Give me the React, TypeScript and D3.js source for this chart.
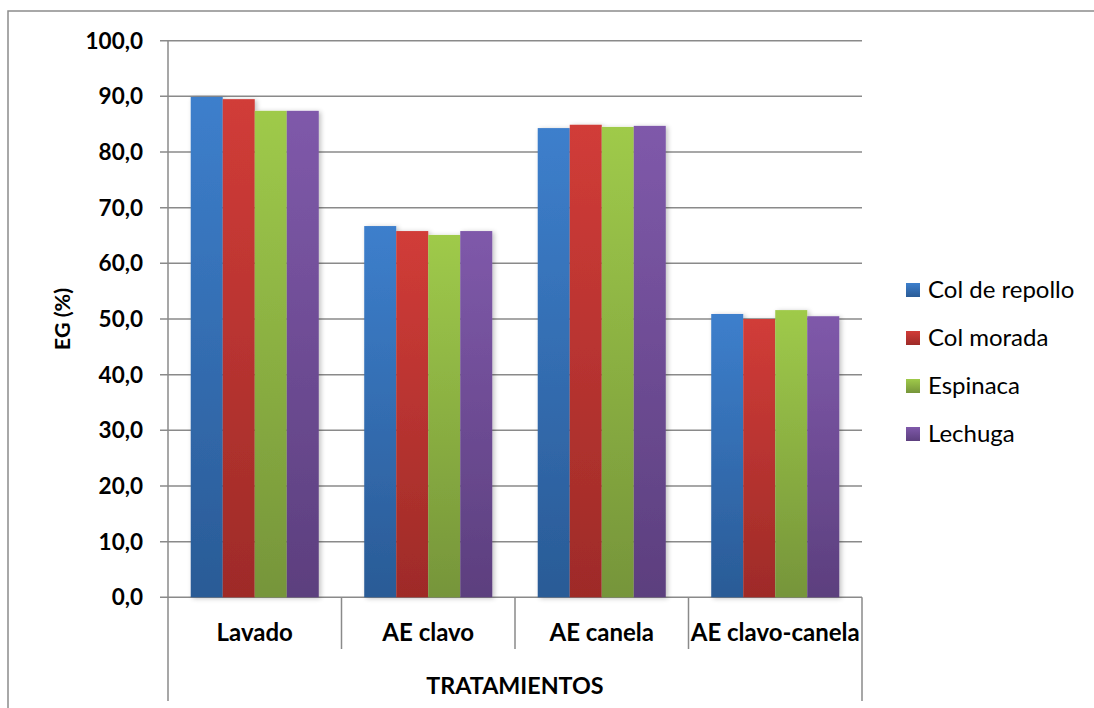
import React from "react";
import * as d3 from "d3";

// Treatments on the category axis
const categories = ["Lavado", "AE clavo", "AE canela", "AE clavo-canela"];
// Vegetables (series)
const seriesNames = ["Col de repollo", "Col morada", "Espinaca", "Lechuga"];
// EG (%) for each series, one value per treatment
const colRepollo = [89.9, 66.7, 84.3, 50.9];
const colMorada = [89.5, 65.8, 84.9, 50.0];
const espinaca = [87.4, 65.1, 84.5, 51.6];
const lechuga = [87.4, 65.8, 84.7, 50.5];
const seriesValues = [colRepollo, colMorada, espinaca, lechuga];
const yTicks = [0, 10, 20, 30, 40, 50, 60, 70, 80, 90, 100];

const palette = [
  { top: "#3d7fcc", bottom: "#2a5b96" },
  { top: "#d13c38", bottom: "#9e2b28" },
  { top: "#9fca4a", bottom: "#76953a" },
  { top: "#7f59aa", bottom: "#5c3f7e" },
];

const W = 1094;
const H = 708;
const plot = { left: 168, right: 862, top: 40.7, bottom: 597.3 };
const font = "Lato, 'Open Sans', sans-serif";

export default function App() {
  const y = d3.scaleLinear().domain([0, 100]).range([plot.bottom, plot.top]);
  const x0 = d3.scaleBand<string>().domain(categories).range([plot.left, plot.right]).paddingInner(0).paddingOuter(0);
  const groupW = x0.bandwidth() * 0.738;
  const x1 = d3
    .scaleBand<string>()
    .domain(seriesNames)
    .range([(x0.bandwidth() - groupW) / 2, (x0.bandwidth() + groupW) / 2]);
  const fmt = (v: number) => d3.format(".1f")(v).replace(".", ",");
  const grid = "#8a8a8a";

  return (
    <svg
      width={W}
      height={H}
      style={{ position: "absolute", left: 0, top: 0, background: "#fff" }}
    >
      <defs>
        {palette.map((p, i) => (
          <linearGradient key={i} id={`g${i}`} x1="0" y1="0" x2="0" y2="1">
            <stop offset="0%" stopColor={p.top} />
            <stop offset="100%" stopColor={p.bottom} />
          </linearGradient>
        ))}
        <filter id="shadow" x="-20%" y="-5%" width="150%" height="120%">
          <feGaussianBlur in="SourceAlpha" stdDeviation="2.5" />
          <feOffset dx="2" dy="1" result="b" />
          <feComponentTransfer>
            <feFuncA type="linear" slope="0.25" />
          </feComponentTransfer>
          <feMerge>
            <feMergeNode />
            <feMergeNode in="SourceGraphic" />
          </feMerge>
        </filter>
      </defs>

      {/* chart frame */}
      <rect x={8} y={11} width={1100} height={720} fill="none" stroke="#8c8c8c" strokeWidth={1.5} />

      {/* horizontal gridlines */}
      {yTicks.map((t) => (
        <line key={t} x1={plot.left - 8} x2={plot.right} y1={y(t)} y2={y(t)} stroke={grid} strokeWidth={1.5} />
      ))}

      {/* y axis line */}
      <line x1={plot.left} x2={plot.left} y1={plot.top} y2={plot.bottom} stroke={grid} strokeWidth={1.5} />

      {/* bars */}
      {categories.map((c, ci) => (
        <g key={c} transform={`translate(${x0(c)},0)`} filter="url(#shadow)">
          {seriesNames.map((s, si) => {
            const v = seriesValues[si][ci];
            return (
              <rect
                key={s}
                x={x1(s)}
                y={y(v)}
                width={x1.bandwidth()}
                height={y(0) - y(v)}
                fill={`url(#g${si})`}
              />
            );
          })}
        </g>
      ))}

      {/* category axis dividers */}
      {categories.map((c, i) => {
        const xx = x0(c) as number;
        const outer = i === 0;
        return (
          <line key={c} x1={xx} x2={xx} y1={plot.bottom} y2={outer ? 701 : 649} stroke={grid} strokeWidth={1.5} />
        );
      })}
      <line x1={plot.right} x2={plot.right} y1={plot.bottom} y2={701} stroke={grid} strokeWidth={1.5} />

      {/* y tick labels */}
      {yTicks.map((t) => (
        <text
          key={t}
          x={143}
          y={y(t)}
          dy="0.35em"
          textAnchor="end"
          fontFamily={font}
          fontWeight="bold"
          fontSize={22.5}
          fill="#000"
        >
          {fmt(t)}
        </text>
      ))}

      {/* category labels */}
      {categories.map((c) => (
        <text
          key={c}
          x={(x0(c) as number) + x0.bandwidth() / 2}
          y={633}
          dy="0.35em"
          textAnchor="middle"
          fontFamily={font}
          fontWeight="bold"
          fontSize={24}
          fill="#000"
        >
          {c}
        </text>
      ))}

      {/* axis titles */}
      <text
        x={(plot.left + plot.right) / 2}
        y={686}
        dy="0.35em"
        textAnchor="middle"
        fontFamily={font}
        fontWeight="bold"
        fontSize={23.3}
      >
        TRATAMIENTOS
      </text>
      <text
        transform={`translate(62,${(plot.top + plot.bottom) / 2}) rotate(-90)`}
        dy="0.35em"
        textAnchor="middle"
        fontFamily={font}
        fontWeight="bold"
        fontSize={21.5}
      >
        EG (%)
      </text>

      {/* legend */}
      {seriesNames.map((s, i) => {
        const cy = 290 + i * 48;
        return (
          <g key={s}>
            <rect x={906} y={cy - 7} width={14} height={14} fill={`url(#g${i})`} />
            <text x={928} y={cy} dy="0.35em" fontFamily={font} fontSize={24} fill="#000">
              {s}
            </text>
          </g>
        );
      })}
    </svg>
  );
}
